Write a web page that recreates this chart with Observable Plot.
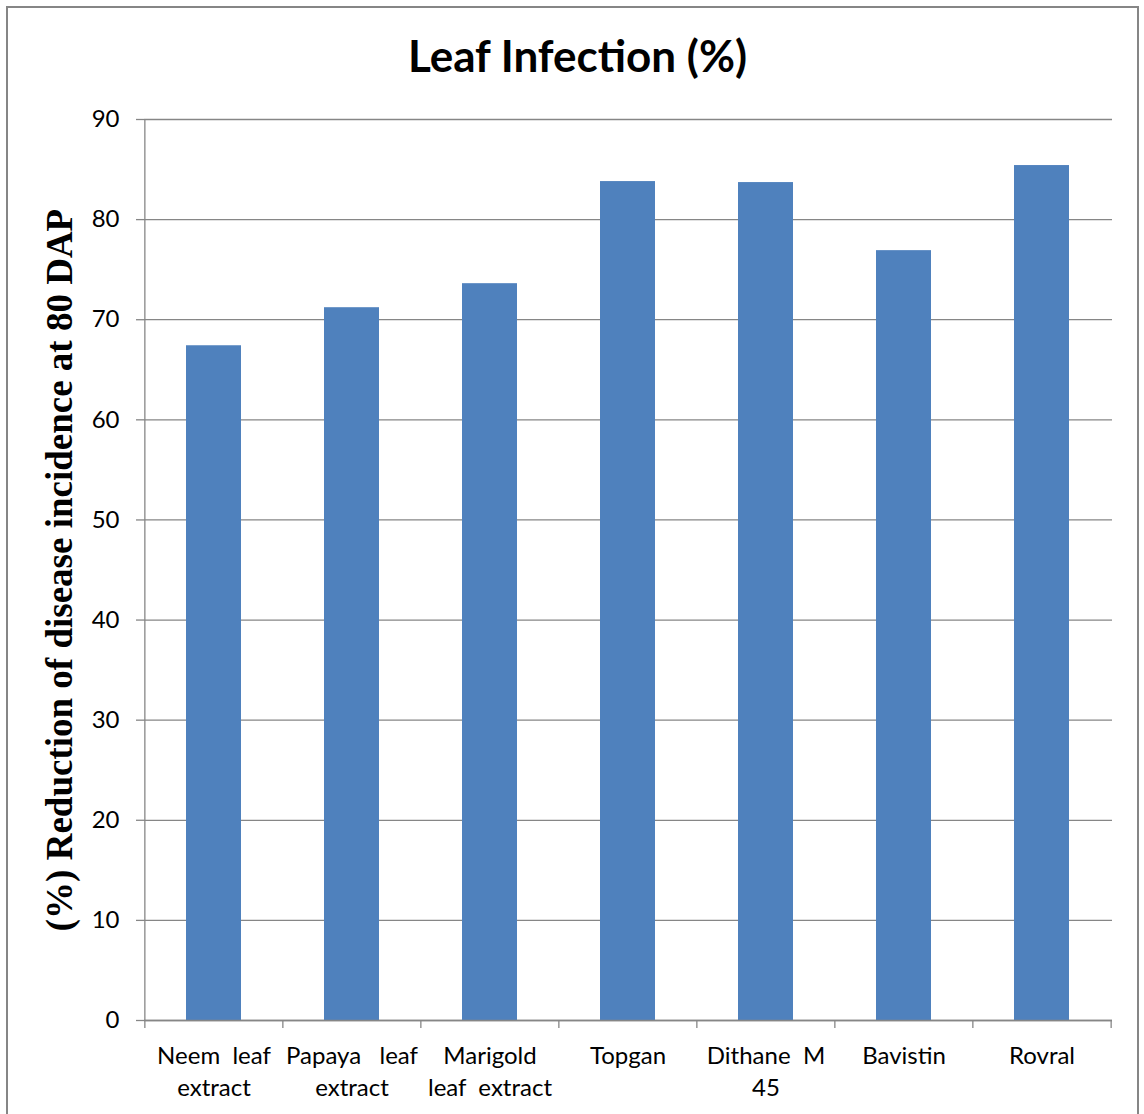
<!DOCTYPE html>
<html>
<head>
<meta charset="utf-8">
<script src="https://cdn.jsdelivr.net/npm/d3@7"></script>
<script src="https://cdn.jsdelivr.net/npm/@observablehq/plot@0.6"></script>
<style>
  html, body { margin: 0; padding: 0; background: #fff; }
  #wrap { position: relative; width: 1144px; height: 1114px; overflow: hidden; background: #fff; }
  #border { position: absolute; left: 6px; top: 6px; width: 1133px; height: 1130px; border: 2px solid #868686; box-sizing: border-box; }
  #title { position: absolute; left: 0; width: 1155px; top: 29px; text-align: center; font-family: Lato, sans-serif; font-weight: bold; font-size: 44px; line-height: 1.2; color: #000; }
  #chart { position: absolute; left: 0; top: 0; }
  #chart svg text { white-space: pre; }
</style>
</head>
<body>
<div id="wrap">
  <div id="border"></div>
  <div id="title">Leaf Infection (%)</div>
  <div id="chart"></div>
</div>
<script>
const categories = ["Neem leaf extract", "Papaya leaf extract", "Marigold leaf extract", "Topgan", "Dithane M 45", "Bavistin", "Rovral"];
const tickLabels = ["Neem  leaf\nextract", "Papaya   leaf\nextract", "Marigold\nleaf  extract", "Topgan", "Dithane  M\n45", "Bavistin", "Rovral"];
const values = [67.4, 71.2, 73.6, 83.8, 83.7, 76.9, 85.4];
const yTicks = [0, 10, 20, 30, 40, 50, 60, 70, 80, 90];
const yLabel = "(%) Reduction of disease incidence at 80 DAP";

const data = categories.map((c, i) => ({category: c, value: values[i]}));
const W = 1144, H = 1114, ML = 144, MR = 32, MT = 119, MB = 94;
const step = (W - ML - MR) / categories.length;
const gray = "#868686";

const chart = Plot.plot({
  width: W,
  height: H,
  marginLeft: ML,
  marginRight: MR,
  marginTop: MT,
  marginBottom: MB,
  style: {background: "transparent", fontFamily: "Lato, sans-serif", fontSize: "24px"},
  x: {domain: categories, paddingInner: 0.6, paddingOuter: 0.3},
  y: {domain: [0, 90]},
  marks: [
    Plot.gridY(yTicks, {stroke: gray, strokeOpacity: 1, strokeWidth: 1.3}),
    Plot.barY(data, {x: "category", y: "value", fill: "#4F81BD"}),
    Plot.ruleY([0], {stroke: gray, strokeWidth: 1.3}),
    Plot.ruleX([categories[0]], {y1: 0, y2: 90, dx: -step / 2, stroke: gray, strokeWidth: 1.3}),
    Plot.ruleX(categories, {y1: 0, y2: -0.8, dx: -step / 2, stroke: gray, strokeWidth: 1.3}),
    Plot.ruleX([categories[categories.length - 1]], {y1: 0, y2: -0.8, dx: step / 2, stroke: gray, strokeWidth: 1.3}),
    Plot.axisY(yTicks, {
      tickSize: 8, tickPadding: 17, stroke: gray, strokeWidth: 1.3,
      fontSize: 24, fill: "#000", label: null, tickFormat: d => String(d)
    }),
    Plot.axisX({
      tickSize: 0, tickPadding: 20, fontSize: 24, fill: "#000", label: null,
      lineHeight: 1.35,
      tickFormat: (d) => tickLabels[categories.indexOf(d)]
    }),
    Plot.text([yLabel], {
      frameAnchor: "left", rotate: -90, dx: -73, dy: 0,
      fontFamily: "'Liberation Serif', 'Times New Roman', serif",
      fontWeight: "bold", fontSize: 37, fill: "#000", textAnchor: "middle", lineAnchor: "bottom"
    })
  ]
});
document.getElementById("chart").appendChild(chart);
</script>
</body>
</html>
